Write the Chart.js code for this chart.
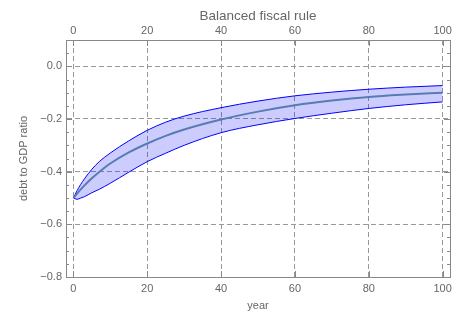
<!DOCTYPE html>
<html>
<head>
<meta charset="utf-8">
<script src="https://cdn.jsdelivr.net/npm/chart.js@4"></script>
<style>
  html, body { margin: 0; padding: 0; background: #fff; }
  #wrap { width: 465px; height: 320px; }
</style>
</head>
<body>
<div id="wrap"><canvas id="chart"></canvas></div>
<script>
// values
const years     = [0, 1, 2, 3, 5, 7, 10, 15, 20, 25, 30, 40, 50, 60, 70, 80, 90, 100];
const meanDebt  = [-0.500, -0.483, -0.467, -0.452, -0.425, -0.401, -0.369, -0.327, -0.293, -0.264, -0.240, -0.202, -0.172, -0.148, -0.130, -0.116, -0.107, -0.100];
const upperDebt = [-0.500, -0.472, -0.448, -0.427, -0.391, -0.362, -0.329, -0.283, -0.243, -0.212, -0.189, -0.157, -0.132, -0.112, -0.098, -0.087, -0.079, -0.073];
const lowerDebt = [-0.500, -0.505, -0.500, -0.495, -0.480, -0.467, -0.444, -0.402, -0.362, -0.330, -0.300, -0.252, -0.222, -0.198, -0.178, -0.160, -0.146, -0.135];

const xTicks = [0, 20, 40, 60, 80, 100];
const yTicks = [-0.8, -0.6, -0.4, -0.2, 0.0];

const pts = vals => years.map((x, i) => ({ x: x, y: vals[i] }));
const setTicks = list => axis => { axis.ticks = list.map(v => ({ value: v })); };

const frameColor = '#888';
const textColor = '#666';
const font = { family: 'Liberation Sans, Arial, sans-serif', size: 11 };

// Mathematica-style inward tick marks on all four sides
const frameTicks = {
  id: 'frameTicks',
  afterDraw(chart) {
    const { ctx, chartArea: a, scales } = chart;
    ctx.save();
    ctx.strokeStyle = frameColor;
    ctx.lineWidth = 1;
    ctx.beginPath();
    xTicks.forEach(v => {
      const px = Math.round(scales.x.getPixelForValue(v)) + 0.5;
      ctx.moveTo(px, a.bottom); ctx.lineTo(px, a.bottom - 6);
      ctx.moveTo(px, a.top); ctx.lineTo(px, a.top + 6);
    });
    for (let k = -16; k <= 2; k++) {
      const v = k * 0.05;
      const py = Math.round(scales.y.getPixelForValue(v)) + 0.5;
      const len = (k % 4 === 0) ? 6 : 3;
      ctx.moveTo(a.left, py); ctx.lineTo(a.left + len, py);
      ctx.moveTo(a.right, py); ctx.lineTo(a.right - len, py);
    }
    ctx.stroke();
    ctx.restore();
  }
};

const ctx = document.getElementById('chart').getContext('2d');

const chart = new Chart(ctx, {
  type: 'line',
  data: {
    datasets: [
      {
        label: 'mean',
        data: pts(meanDebt),
        borderColor: 'rgb(88,124,178)',
        borderWidth: 2,
        pointRadius: 0,
        fill: false,
        cubicInterpolationMode: 'monotone'
      },
      {
        label: 'upper',
        data: pts(upperDebt),
        borderColor: '#0000ff',
        borderWidth: 1,
        pointRadius: 0,
        fill: '+1',
        backgroundColor: 'rgba(0,0,255,0.2)',
        cubicInterpolationMode: 'monotone'
      },
      {
        label: 'lower',
        data: pts(lowerDebt),
        borderColor: '#0000ff',
        borderWidth: 1,
        pointRadius: 0,
        fill: false,
        cubicInterpolationMode: 'monotone'
      }
    ]
  },
  options: {
    responsive: true,
    maintainAspectRatio: false,
    animation: false,
    layout: { padding: 0 },
    plugins: { legend: { display: false }, tooltip: { enabled: false } },
    scales: {
      x: {
        type: 'linear', position: 'bottom', min: -2, max: 102,
        afterBuildTicks: setTicks(xTicks),
        afterFit: s => { s.height = 43; },
        ticks: { color: textColor, font: font, padding: 5, maxRotation: 0 },
        grid: { color: '#999', drawTicks: false },
        border: { color: frameColor, dash: [5, 3] },
        title: { display: true, text: 'year', color: textColor, font: font, padding: { bottom: 7 } }
      },
      x2: {
        type: 'linear', position: 'top', min: -2, max: 102,
        afterBuildTicks: setTicks(xTicks),
        afterFit: s => { s.height = 40; },
        ticks: { color: textColor, font: font, padding: 2, maxRotation: 0 },
        grid: { drawOnChartArea: false, drawTicks: false },
        border: { color: frameColor },
        title: { display: true, text: 'Balanced fiscal rule', color: textColor,
                 font: { family: font.family, size: 13.5 }, padding: { top: 8 } }
      },
      y: {
        type: 'linear', position: 'left', min: -0.8, max: 0.1,
        afterBuildTicks: setTicks(yTicks),
        afterFit: s => { s.width = 66; },
        ticks: {
          color: textColor, font: font, padding: 4,
          callback: v => (v < 0 ? '\u2212' : '') + Math.abs(v).toFixed(1)
        },
        grid: { color: '#999', drawTicks: false },
        border: { color: frameColor, dash: [5, 3] },
        title: { display: true, text: 'debt to GDP ratio', color: textColor, font: font, padding: { top: 17 } }
      },
      y2: {
        type: 'linear', position: 'right', min: -0.8, max: 0.1,
        afterBuildTicks: setTicks(yTicks),
        afterFit: s => { s.width = 15; },
        ticks: { display: false },
        grid: { drawOnChartArea: false, drawTicks: false },
        border: { color: frameColor }
      }
    }
  },
  plugins: [frameTicks]
});
</script>
</body>
</html>
